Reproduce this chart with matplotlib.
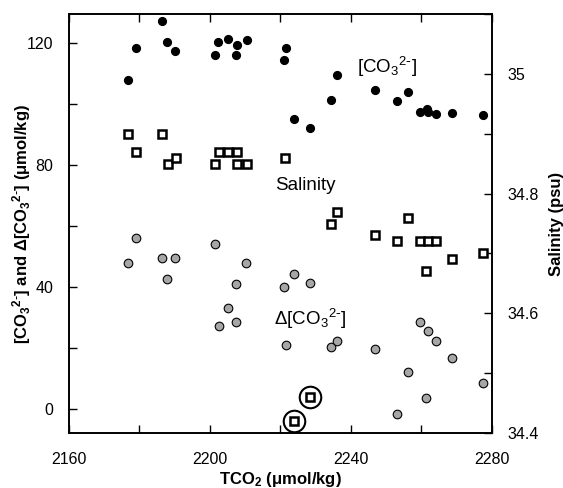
import matplotlib
matplotlib.use("Agg")
import matplotlib.pyplot as plt
from matplotlib.ticker import MultipleLocator, FuncFormatter

plt.rcParams['font.family'] = ['Liberation Sans', 'DejaVu Sans']
plt.rcParams['mathtext.default'] = 'regular'

# [CO3 2-] (left axis, black dots)
co3_tco2 = [2176.9, 2179.1, 2186.6, 2188.0, 2190.3, 2201.6, 2202.5, 2205.2, 2207.7, 2207.6,
            2210.6, 2221.7, 2221.1, 2223.9, 2228.4, 2234.4, 2236.0, 2246.9, 2253.0, 2256.4,
            2259.7, 2261.6, 2261.9, 2264.2, 2268.7, 2277.6]
co3_val = [107.8, 118.5, 127.4, 120.4, 117.6, 116.3, 120.3, 121.5, 119.3, 116.1,
           120.9, 118.4, 114.4, 95.2, 92.3, 101.4, 109.7, 104.8, 100.9, 104.0,
           97.4, 98.4, 97.4, 96.8, 97.0, 96.4]

# delta [CO3 2-] (left axis, grey dots)
dco3_tco2 = [2179.1, 2176.9, 2186.5, 2190.3, 2188.0, 2201.5, 2210.4, 2207.6, 2205.2, 2207.6,
             2202.6, 2221.1, 2223.9, 2221.6, 2228.4, 2234.4, 2236.0, 2246.9, 2256.4, 2253.0,
             2259.7, 2261.9, 2264.2, 2268.6, 2261.4, 2277.6]
dco3_val = [56.1, 47.9, 49.4, 49.4, 42.6, 54.0, 47.7, 40.8, 33.2, 28.5,
            27.0, 39.9, 44.3, 21.0, 41.1, 20.2, 22.2, 19.7, 12.0, -1.6,
            28.3, 25.4, 22.3, 16.6, 3.6, 8.4]

# salinity (right axis, open squares)
sal_tco2 = [2176.9, 2179.1, 2186.6, 2188.1, 2190.4, 2201.6, 2202.7, 2205.2, 2207.7, 2207.7,
            2210.6, 2221.4, 2234.4, 2236.0, 2256.4, 2247.0, 2253.0, 2259.7, 2261.9, 2264.2,
            2261.4, 2268.6, 2277.6, 2228.5, 2223.8]
sal_val = [34.90, 34.87, 34.90, 34.85, 34.86, 34.85, 34.87, 34.87, 34.87, 34.85,
           34.85, 34.86, 34.75, 34.77, 34.76, 34.73, 34.72, 34.72, 34.72, 34.72,
           34.67, 34.69, 34.70, 34.46, 34.42]

# circled salinity outliers
out_tco2 = [2228.5, 2223.8]
out_sal = [34.46, 34.42]

co3 = '[CO$_3$$^{2\\text{-}}$]'

fig = plt.figure(figsize=(5.63, 4.88), dpi=100)
ax = fig.add_axes([0.1217, 0.1127, 0.7517, 0.8586])
ax2 = ax.twinx()

ax.plot(co3_tco2, co3_val, 'o', color='black', ms=5.6, zorder=3)
ax.plot(dco3_tco2, dco3_val, 'o', mfc='#a6a6a6', mec='black', mew=0.8, ms=6.2, zorder=3)

ax2.plot(sal_tco2, sal_val, 's', mfc='white', mec='black', mew=1.8, ms=5.2, zorder=3)
ax2.plot(out_tco2, out_sal, 'o', mfc='none', mec='black', mew=1.5, ms=15.5, zorder=3)

ax.set_xlim(2160, 2280)
ax.set_ylim(-8, 129.6)
ax2.set_ylim(34.4, 35.1)

ax.xaxis.set_major_locator(MultipleLocator(20))
ax.xaxis.set_major_formatter(FuncFormatter(lambda v, p: f'{v:.0f}' if round(v) % 40 == 0 else ''))
ax.yaxis.set_major_locator(MultipleLocator(20))
ax.yaxis.set_major_formatter(FuncFormatter(lambda v, p: f'{v:.0f}' if round(v) % 40 == 0 else ''))
ax2.yaxis.set_major_locator(MultipleLocator(0.1))
ax2.yaxis.set_major_formatter(FuncFormatter(lambda v, p: f'{v:g}' if round(v * 10) % 2 == 0 else ''))

ax.tick_params(axis='x', direction='in', top=True, length=6, width=1, labelsize=11.5, pad=14)
ax.tick_params(axis='y', direction='in', length=6, width=1, labelsize=11.5, pad=11)
ax2.tick_params(axis='y', direction='in', length=6, width=1, labelsize=11.5, pad=11)
for a in (ax, ax2):
    for s in a.spines.values():
        s.set_linewidth(1.2)

ax.set_xlabel('TCO$_2$ (μmol/kg)', fontsize=12, fontweight='bold')
ax.xaxis.set_label_coords(0.5, -0.089)
ax.set_ylabel(co3 + ' and Δ' + co3 + ' (μmol/kg)', fontsize=12, fontweight='bold')
ax.yaxis.set_label_coords(-0.084, 0.5)
ax2.set_ylabel('Salinity (psu)', fontsize=12, fontweight='bold')
ax2.yaxis.set_label_coords(1.135, 0.5)

ax.text(2241.8, 112.3, co3, fontsize=13.5, va='center', ha='left')
ax.text(2218.6, 73.2, 'Salinity', fontsize=13.5, va='center', ha='left')
ax.text(2218.3, 29.3, 'Δ' + co3, fontsize=13.5, va='center', ha='left')

fig.savefig('out.png', dpi=100)
